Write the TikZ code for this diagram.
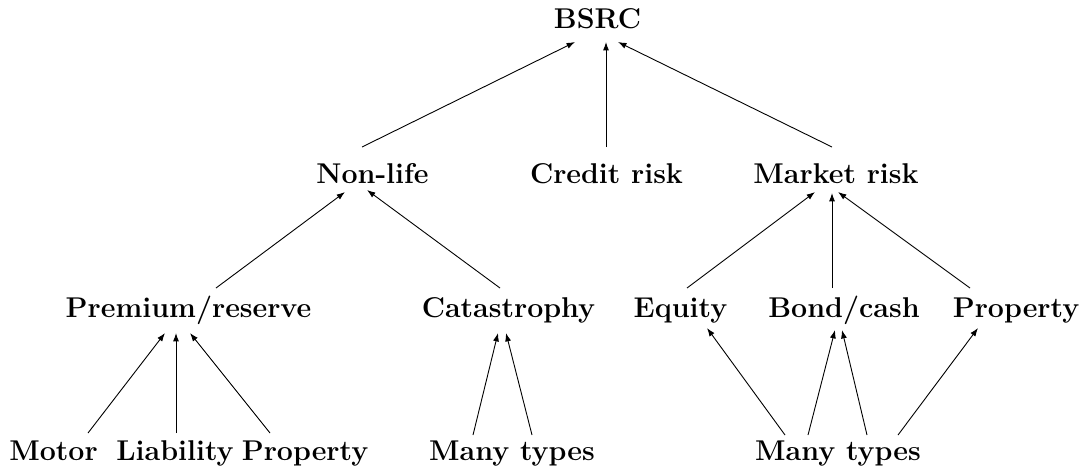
\documentclass[tikz,border=0pt]{standalone}
\usetikzlibrary{arrows.meta}
\begin{document}
\begin{tikzpicture}[x=0.5pt,y=-0.5pt,
  lbl/.style={inner sep=0pt,anchor=base,font=\fontsize{14.3}{17}\selectfont\bfseries},
  arr/.style={-{Latex[length=4.2pt,width=3pt]},line width=0.45pt}]
\useasboundingbox (0,0) rectangle (1086,468);
% level 1
\node[lbl] (bsrc) at (597.5,28) {BSRC};
% level 2
\node[lbl] (nl) at (372.5,183) {Non-life};
\node[lbl] (cr) at (606.5,183) {Credit risk};
\node[lbl] (mr) at (836,183) {Market risk};
% level 3
\node[lbl] (pr) at (188.5,317) {Premium/reserve};
\node[lbl] (ca) at (508.5,317) {Catastrophy};
\node[lbl] (eq) at (680.5,317) {Equity};
\node[lbl] (bc) at (844,317) {Bond/cash};
\node[lbl] (pp) at (1016,317) {Property};
% level 4
\node[lbl] (mo) at (53.5,460) {Motor};
\node[lbl] (li) at (175,460) {Liability};
\node[lbl] (pl) at (305,460) {Property};
\node[lbl] (mt1) at (512,460) {Many types};
\node[lbl] (mt2) at (838,460) {Many types};
% connectors
\draw[arr] ([shift={(-10.5,-36)}]nl.base) -- ([shift={(-22.5,14)}]bsrc.base);
\draw[arr] ([shift={(-0.5,-36)}]cr.base) -- ([shift={(8.5,14)}]bsrc.base);
\draw[arr] ([shift={(-4,-36)}]mr.base) -- ([shift={(20.5,14)}]bsrc.base);
\draw[arr] ([shift={(27.5,-29)}]pr.base) -- ([shift={(-27.5,9)}]nl.base);
\draw[arr] ([shift={(-8.5,-29)}]ca.base) -- ([shift={(-5.5,7)}]nl.base);
\draw[arr] ([shift={(6.5,-29)}]eq.base) -- ([shift={(-21,9)}]mr.base);
\draw[arr] ([shift={(-12,-29)}]bc.base) -- ([shift={(-4,10)}]mr.base);
\draw[arr] ([shift={(-46,-29)}]pp.base) -- ([shift={(2,9)}]mr.base);
\draw[arr] ([shift={(34.5,-27)}]mo.base) -- ([shift={(-23.5,16)}]pr.base);
\draw[arr] ([shift={(1,-27)}]li.base) -- ([shift={(-12.5,16)}]pr.base);
\draw[arr] ([shift={(-35,-27)}]pl.base) -- ([shift={(1.5,16)}]pr.base);
\draw[arr] ([shift={(-39,-25)}]mt1.base) -- ([shift={(-10.5,16)}]ca.base);
\draw[arr] ([shift={(20,-25)}]mt1.base) -- ([shift={(-2.5,16)}]ca.base);
\draw[arr] ([shift={(-53,-25)}]mt2.base) -- ([shift={(26.5,11)}]eq.base);
\draw[arr] ([shift={(-30,-25)}]mt2.base) -- ([shift={(-9,13)}]bc.base);
\draw[arr] ([shift={(29,-25)}]mt2.base) -- ([shift={(-2,13)}]bc.base);
\draw[arr] ([shift={(60,-25)}]mt2.base) -- ([shift={(-38,11)}]pp.base);
\end{tikzpicture}
\end{document}
